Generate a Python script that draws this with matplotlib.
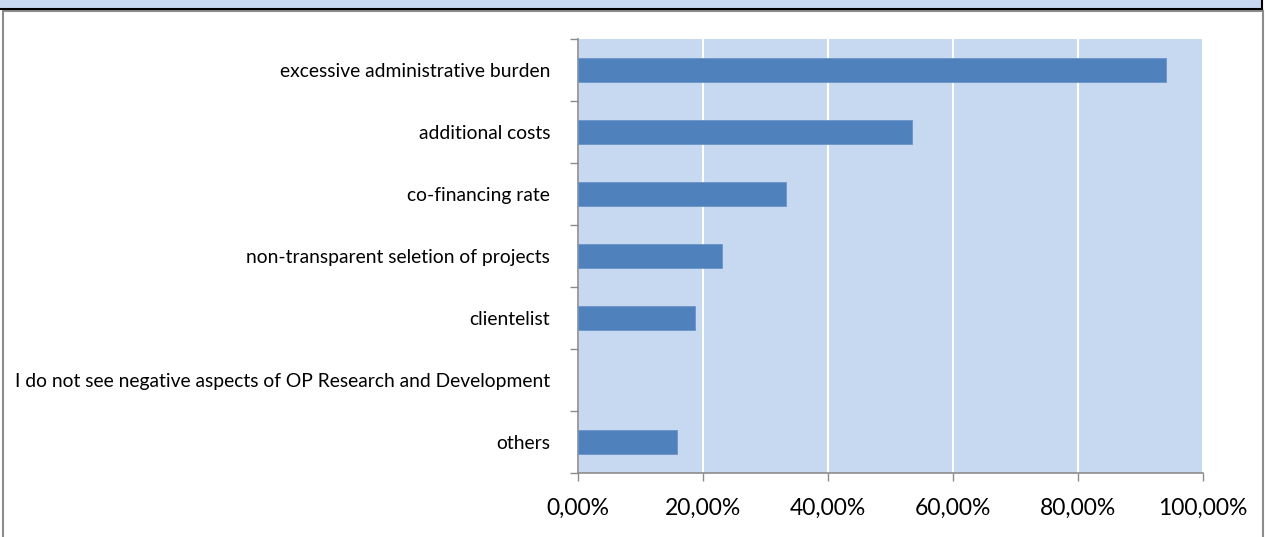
import numpy as np
import matplotlib.pyplot as plt
from matplotlib.patches import Rectangle
from matplotlib.ticker import FuncFormatter, FixedLocator

categories = [
    "excessive administrative burden",
    "additional costs",
    "co-financing rate",
    "non-transparent seletion of projects",
    "clientelist",
    "I do not see negative aspects of OP Research and Development",
    "others",
]
shares = [0.941, 0.534, 0.333, 0.230, 0.187, 0.0, 0.158]

plt.rcParams['font.family'] = ['Lato', 'DejaVu Sans']

fig = plt.figure(figsize=(12.65, 5.37), dpi=100)
W, H = 1265, 537

# header strip and chart frame
fig.patches.append(Rectangle((0, 1 - 8 / H), 1262 / W, 8 / H, transform=fig.transFigure,
                             facecolor='#C6D9F0', edgecolor='none'))
fig.lines.append(plt.Line2D([0, 1262 / W], [1 - 8.5 / H] * 2, transform=fig.transFigure,
                            color='black', lw=1.5))
fig.lines.append(plt.Line2D([1262 / W] * 2, [1 - 8.5 / H, 1], transform=fig.transFigure,
                            color='black', lw=1.5))
fig.patches.append(Rectangle((2.5 / W, -0.01), 1260.5 / W, 1 - 10.5 / H + 0.01,
                             transform=fig.transFigure, facecolor='none',
                             edgecolor='#8C8C8C', lw=1.5))

ax = fig.add_axes([578 / W, 1 - 473 / H, 625 / W, 434 / H])
ax.set_facecolor('#C6D9F0')

y = np.arange(len(categories))
ax.barh(y, shares, height=0.4, color='#4F81BD', edgecolor='#6C94C8',
        lw=[0.6 if v > 0 else 0 for v in shares], zorder=3)

ax.set_xlim(0, 1.0)
ax.set_ylim(len(categories) - 0.5, -0.5)
ax.set_xticks(np.arange(0, 1.01, 0.2))
ax.xaxis.set_major_formatter(FuncFormatter(lambda v, p: f"{v * 100:.2f}%".replace('.', ',')))
ax.grid(axis='x', color='white', lw=1.5, zorder=1)

ax.set_yticks(y)
ax.set_yticklabels(categories, fontsize=13.9)
ax.yaxis.set_minor_locator(FixedLocator(np.arange(-0.5, len(categories), 1)))
ax.tick_params(axis='y', which='major', length=0, pad=20)
ax.tick_params(axis='y', which='minor', length=6, color='#8C8C8C', width=1)
ax.tick_params(axis='x', length=6, color='#8C8C8C', width=1, labelsize=16.5, pad=12)

for s in ['top', 'right']:
    ax.spines[s].set_visible(False)
for s in ['left', 'bottom']:
    ax.spines[s].set_color('#8C8C8C')
    ax.spines[s].set_linewidth(1.2)

fig.savefig('out.png', dpi=100)
